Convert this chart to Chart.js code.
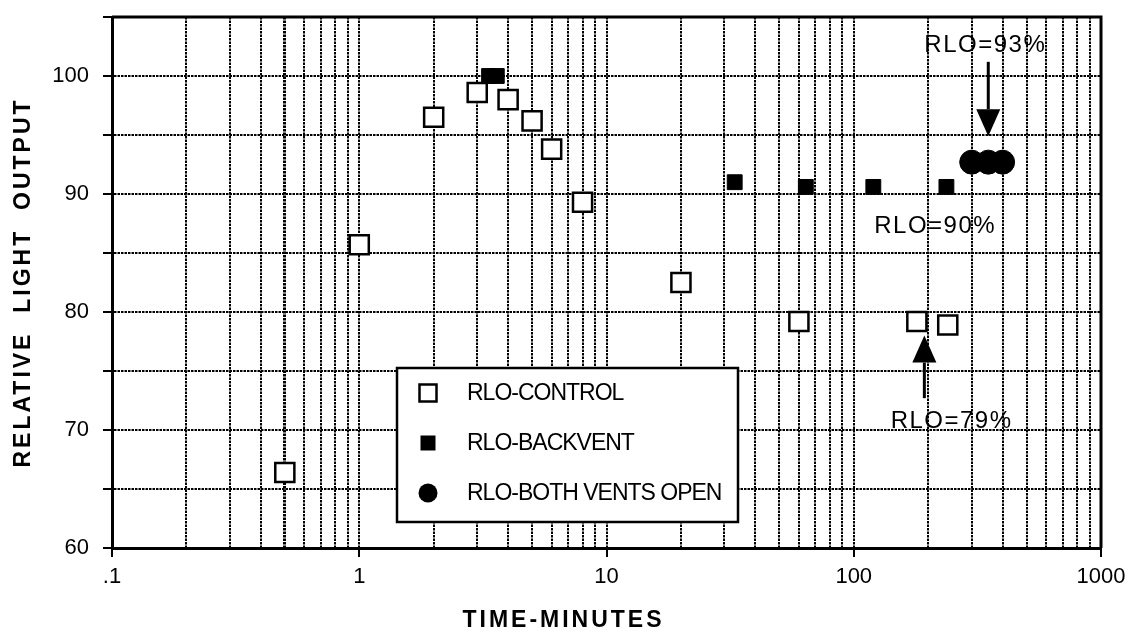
<!DOCTYPE html>
<html>
<head>
<meta charset="utf-8">
<script src="https://cdn.jsdelivr.net/npm/chart.js@4/dist/chart.umd.min.js"></script>
<style>
  html, body { margin: 0; padding: 0; background: #fff; }
</style>
</head>
<body>
<canvas id="rloChart" width="1133" height="634"></canvas>
<script>
// values (time in minutes, relative light output in %)
const controlTime = [0.5, 1, 2, 3, 4, 5, 6, 8, 20, 60, 180, 240];
const controlRLO = [66.4, 85.7, 96.5, 98.6, 98.0, 96.2, 93.8, 89.3, 82.5, 79.2, 79.2, 78.9];
const backventTime = [3.35, 3.6, 33, 64, 120, 237];
const backventRLO = [100.0, 100.0, 91.0, 90.6, 90.6, 90.6];
const bothTime = [300, 350, 400];
const bothRLO = [92.7, 92.7, 92.7];

const seriesNames = ['RLO-CONTROL', 'RLO-BACKVENT', 'RLO-BOTH VENTS OPEN'];
const xTickValues = [0.1, 1, 10, 100, 1000];
const xTickLabels = ['.1', '1', '10', '100', '1000'];
const yTickValues = [60, 70, 80, 90, 100];
const yTickLabels = ['60', '70', '80', '90', '100'];

// callouts: text anchor + optional arrow (tail x, tail y, tip x, tip y), data units
const callouts = [
  { text: 'RLO=93%', x: 193, y: 102.0, arrow: [350, 101.2, 350, 94.9] },
  { text: 'RLO=90%', x: 121, y: 86.7 },
  { text: 'RLO=79%', x: 141, y: 70.2, arrow: [193, 72.7, 193, 78.0] }
];

const FONT = '"Liberation Sans", Arial, Helvetica, sans-serif';
const GRID = '#000';

// log paper lines: 1..9 in every decade
const gridTimes = [];
xTickValues.slice(0, -1).forEach(d => {
  for (let m = 1; m <= 9; m++) gridTimes.push(Number((m * d).toPrecision(6)));
});
gridTimes.push(xTickValues[xTickValues.length - 1]);

const isDecade = v => xTickValues.some(d => Math.abs(d - v) < d * 1e-6);
const toPoints = (xs, ys) => xs.map((x, i) => ({ x, y: ys[i] }));

// frame on top / right side of the plot area
const framePlugin = {
  id: 'frame',
  beforeDatasetsDraw(chart) {
    const { ctx, chartArea: a } = chart;
    ctx.save();
    ctx.strokeStyle = '#000';
    ctx.lineWidth = 3;
    ctx.beginPath();
    ctx.moveTo(a.left, a.top);
    ctx.lineTo(a.right, a.top);
    ctx.lineTo(a.right, a.bottom);
    ctx.stroke();
    ctx.restore();
  }
};

// spaced-out lettering for the axis titles (x title sits left of centre in the original)
const titleShift = { x: -43, y: 0 };
const spacingPlugin = {
  id: 'spacing',
  beforeDraw(chart) {
    Object.values(chart.scales).forEach(scale => {
      if (scale._spaced) return;
      const drawTitle = scale.drawTitle;
      scale.drawTitle = function () {
        this.ctx.save();
        this.ctx.letterSpacing = '3px';
        this.ctx.translate(titleShift[this.id] || 0, 0);
        drawTitle.apply(this, arguments);
        this.ctx.restore();
      };
      scale._spaced = true;
    });
  }
};

function drawArrow(ctx, x1, y1, x2, y2) {
  const ang = Math.atan2(y2 - y1, x2 - x1);
  const len = 27, half = 12;
  const bx = x2 - len * Math.cos(ang), by = y2 - len * Math.sin(ang);
  ctx.beginPath();
  ctx.moveTo(x1, y1);
  ctx.lineTo(bx, by);
  ctx.lineWidth = 3;
  ctx.stroke();
  ctx.beginPath();
  ctx.moveTo(x2, y2);
  ctx.lineTo(bx + half * Math.sin(ang), by - half * Math.cos(ang));
  ctx.lineTo(bx - half * Math.sin(ang), by + half * Math.cos(ang));
  ctx.closePath();
  ctx.fill();
}

// legend box inside the plot + text callouts
const overlayPlugin = {
  id: 'overlay',
  afterDatasetsDraw(chart) {
    const { ctx, chartArea: a, scales: { x, y } } = chart;
    ctx.save();

    // callouts
    ctx.fillStyle = '#000';
    ctx.strokeStyle = '#000';
    ctx.font = '24px ' + FONT;
    ctx.letterSpacing = '1.5px';
    ctx.textAlign = 'left';
    ctx.textBaseline = 'alphabetic';
    callouts.forEach(c => {
      ctx.fillText(c.text, x.getPixelForValue(c.x), y.getPixelForValue(c.y));
      if (c.arrow) {
        const [tx, ty, hx, hy] = c.arrow;
        drawArrow(ctx, x.getPixelForValue(tx), y.getPixelForValue(ty),
          x.getPixelForValue(hx), y.getPixelForValue(hy));
      }
    });

    // legend
    const left = a.left + 285, top = a.top + 351, w = 341, h = 154;
    ctx.fillStyle = '#fff';
    ctx.fillRect(left, top, w, h);
    ctx.lineWidth = 2.5;
    ctx.strokeStyle = '#000';
    ctx.strokeRect(left, top, w, h);

    const mx = left + 31;
    const rows = [top + 25, top + 75, top + 125];
    // open square
    ctx.lineWidth = 2.5;
    ctx.strokeRect(mx - 8.5, rows[0] - 8.5, 17, 17);
    // filled square
    ctx.fillStyle = '#000';
    ctx.fillRect(mx - 7.5, rows[1] - 7.5, 15, 15);
    // filled circle
    ctx.beginPath();
    ctx.arc(mx, rows[2], 9.5, 0, Math.PI * 2);
    ctx.fill();

    ctx.font = '23px ' + FONT;
    ctx.letterSpacing = '-1px';
    ctx.textBaseline = 'middle';
    seriesNames.forEach((name, i) => ctx.fillText(name, left + 70, rows[i] + 1));
    ctx.restore();
  }
};

new Chart(document.getElementById('rloChart'), {
  type: 'scatter',
  data: {
    datasets: [
      {
        label: seriesNames[0],
        data: toPoints(controlTime, controlRLO),
        pointStyle: 'rect',
        pointRadius: 13.5,
        backgroundColor: '#fff',
        borderColor: '#000',
        borderWidth: 2.5,
        order: 1
      },
      {
        label: seriesNames[1],
        data: toPoints(backventTime, backventRLO),
        pointStyle: 'rect',
        pointRadius: 10.5,
        backgroundColor: '#000',
        borderColor: '#000',
        borderWidth: 1,
        order: 0
      },
      {
        label: seriesNames[2],
        data: toPoints(bothTime, bothRLO),
        pointStyle: 'circle',
        pointRadius: 12,
        backgroundColor: '#000',
        borderColor: '#000',
        borderWidth: 1,
        order: 2
      }
    ]
  },
  options: {
    responsive: false,
    animation: false,
    events: [],
    layout: { padding: { left: 0, right: 32, top: 17, bottom: 0 } },
    plugins: {
      legend: { display: false },
      tooltip: { enabled: false }
    },
    scales: {
      x: {
        type: 'logarithmic',
        min: 0.1,
        max: 1000,
        afterBuildTicks: scale => {
          scale.ticks = gridTimes.map(v => ({ value: v }));
        },
        afterFit: scale => { scale.height = 86; },
        ticks: {
          autoSkip: false,
          maxRotation: 0,
          padding: 7,
          color: '#000',
          font: { family: FONT, size: 22 },
          callback: value => {
            const i = xTickValues.findIndex(d => Math.abs(d - value) < d * 1e-6);
            return i >= 0 ? xTickLabels[i] : '';
          }
        },
        grid: {
          color: GRID,
          lineWidth: ctx => (ctx.tick && Math.abs(ctx.tick.value - 0.5) < 1e-6 ? 3 : 2),
          tickLength: 9,
          tickWidth: 2,
          tickColor: ctx => (ctx.tick && isDecade(ctx.tick.value) ? '#000' : 'rgba(0,0,0,0)')
        },
        border: { display: true, color: '#000', width: 3, dash: [2.5, 1] },
        title: {
          display: true,
          text: 'TIME-MINUTES',
          color: '#000',
          font: { family: FONT, size: 23, weight: 'bold' },
          padding: { top: 0, bottom: 0 }
        }
      },
      y: {
        min: 60,
        max: 105,
        afterFit: scale => {
          scale.width = 112;
          // no extra room above the plot for the (blank) top label
          scale.paddingTop = 0;
          scale.paddingBottom = 0;
        },
        ticks: {
          stepSize: 5,
          padding: 14,
          color: '#000',
          font: { family: FONT, size: 22 },
          callback: value => {
            const i = yTickValues.indexOf(value);
            return i >= 0 ? yTickLabels[i] : '';
          }
        },
        grid: {
          color: GRID,
          lineWidth: 2,
          tickLength: 9,
          tickWidth: 2,
          tickColor: '#000'
        },
        border: { display: true, color: '#000', width: 3, dash: [2.5, 1] },
        title: {
          display: true,
          text: 'RELATIVE  LIGHT  OUTPUT',
          color: '#000',
          font: { family: FONT, size: 23, weight: 'bold' },
          padding: { top: 10, bottom: 0 }
        }
      }
    }
  },
  plugins: [framePlugin, spacingPlugin, overlayPlugin]
});
</script>
</body>
</html>
